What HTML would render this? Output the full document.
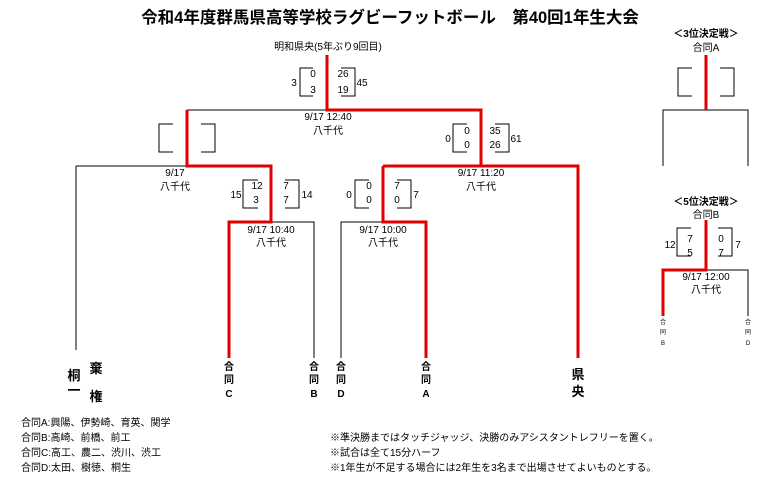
<!DOCTYPE html>
<html><head><meta charset="utf-8"><style>
body{margin:0;background:#fff;}
svg{display:block;font-family:"Liberation Sans","Noto Sans CJK JP",sans-serif;}
text{fill:#000;}
.s{font-size:10px;}
.b{font-weight:bold;}
</style></head><body>
<svg width="772" height="480" viewBox="0 0 772 480">
<text x="390" y="23" text-anchor="middle" font-size="16.5" class="b">令和4年度群馬県高等学校ラグビーフットボール　第40回1年生大会</text>
<text x="328" y="50" text-anchor="middle" class="s">明和県央(5年ぶり9回目)</text>
<g fill="none" stroke="#000" stroke-width="1">
<line x1="187" y1="110" x2="327" y2="110"/>
<path d="M313 68 H300 V96 H313"/><path d="M341 68 H355 V96 H341"/>
<line x1="76" y1="166" x2="187" y2="166"/>
<line x1="76" y1="166" x2="76" y2="350"/>
<path d="M173 124 H159 V152 H173"/><path d="M201 124 H215 V152 H201"/>
<path d="M258 180 H243 V208 H258"/><path d="M285 180 H299 V208 H285"/>
<path d="M271 222 H314 V358"/>
<path d="M467 124 H453 V152 H467"/><path d="M495 124 H509 V152 H495"/>
<path d="M383 222 H341 V358"/>
<path d="M369 180 H355 V208 H369"/><path d="M397 180 H411 V208 H397"/>
<path d="M692 68 H678 V96 H692"/><path d="M720 68 H734 V96 H720"/>
<path d="M663 166 V110 H748 V166"/>
<path d="M691 228 H677 V256 H691"/><path d="M718 228 H732 V256 H718"/>
<path d="M707 270 H748 V316"/>
</g>
<g fill="none" stroke="#e00000" stroke-width="3">
<path d="M327 55 V110 H481 V166 H578 V358"/>
<path d="M187 110 V166 H271 V222 H229 V358"/>
<path d="M383 166 H481"/>
<path d="M383 166 V222 H426 V358"/>
<path d="M706 55 V110"/>
<path d="M706 220 V270 H663 V316"/>
</g>
<g class="s">
<text x="294" y="86" text-anchor="middle">3</text>
<text x="313" y="77" text-anchor="middle">0</text><text x="313" y="93" text-anchor="middle">3</text>
<text x="343" y="77" text-anchor="middle">26</text><text x="343" y="93" text-anchor="middle">19</text>
<text x="362" y="86" text-anchor="middle">45</text>
<text x="328" y="120" text-anchor="middle">9/17  12:40</text>
<text x="328" y="134" text-anchor="middle">八千代</text>
<text x="175" y="176" text-anchor="middle">9/17</text>
<text x="175" y="190" text-anchor="middle">八千代</text>
<text x="236" y="198" text-anchor="middle">15</text>
<text x="257" y="189" text-anchor="middle">12</text><text x="256" y="203" text-anchor="middle">3</text>
<text x="286" y="189" text-anchor="middle">7</text><text x="286" y="203" text-anchor="middle">7</text>
<text x="307" y="198" text-anchor="middle">14</text>
<text x="271" y="233" text-anchor="middle">9/17 10:40</text>
<text x="271" y="246" text-anchor="middle">八千代</text>
<text x="448" y="142" text-anchor="middle">0</text>
<text x="467" y="134" text-anchor="middle">0</text><text x="467" y="148" text-anchor="middle">0</text>
<text x="495" y="134" text-anchor="middle">35</text><text x="495" y="148" text-anchor="middle">26</text>
<text x="516" y="142" text-anchor="middle">61</text>
<text x="481" y="176" text-anchor="middle">9/17 11:20</text>
<text x="481" y="190" text-anchor="middle">八千代</text>
<text x="349" y="198" text-anchor="middle">0</text>
<text x="369" y="189" text-anchor="middle">0</text><text x="369" y="203" text-anchor="middle">0</text>
<text x="397" y="189" text-anchor="middle">7</text><text x="397" y="203" text-anchor="middle">0</text>
<text x="416" y="198" text-anchor="middle">7</text>
<text x="383" y="233" text-anchor="middle">9/17 10:00</text>
<text x="383" y="246" text-anchor="middle">八千代</text>
<text x="706" y="37" text-anchor="middle" class="b">＜3位決定戦＞</text>
<text x="706" y="51" text-anchor="middle">合同A</text>
<text x="706" y="205" text-anchor="middle" class="b">＜5位決定戦＞</text>
<text x="706" y="218" text-anchor="middle">合同B</text>
<text x="670" y="248" text-anchor="middle">12</text>
<text x="690" y="242" text-anchor="middle">7</text><text x="690" y="256" text-anchor="middle">5</text>
<text x="721" y="242" text-anchor="middle">0</text><text x="721" y="256" text-anchor="middle">7</text>
<text x="738" y="248" text-anchor="middle">7</text>
<text x="706" y="280" text-anchor="middle">9/17 12:00</text>
<text x="706" y="293" text-anchor="middle">八千代</text>
</g>
<g font-size="6" text-anchor="middle"><text x="663" y="324">合</text><text x="663" y="334">同</text><text x="663" y="345">B</text>
<text x="748" y="324">合</text><text x="748" y="334">同</text><text x="748" y="345">D</text></g>
<g class="b" text-anchor="middle" font-size="10">
<text x="229" y="370">合</text><text x="229" y="383">同</text><text x="229" y="397">C</text>
<text x="314" y="370">合</text><text x="314" y="383">同</text><text x="314" y="397">B</text>
<text x="341" y="370">合</text><text x="341" y="383">同</text><text x="341" y="397">D</text>
<text x="426" y="370">合</text><text x="426" y="383">同</text><text x="426" y="397">A</text>
</g>
<g class="b" text-anchor="middle" font-size="13">
<text x="578" y="379">県</text><text x="578" y="396">央</text>
<text x="74" y="380">桐</text><text x="74" y="395">一</text>
<text x="96" y="373">棄</text><text x="96" y="401">権</text>
</g>
<g class="s">
<text x="21" y="426">合同A:興陽、伊勢崎、育英、関学</text>
<text x="21" y="441">合同B:高崎、前橋、前工</text>
<text x="21" y="456">合同C:高工、農二、渋川、渋工</text>
<text x="21" y="471">合同D:太田、樹徳、桐生</text>
<text x="330" y="441">※準決勝まではタッチジャッジ、決勝のみアシスタントレフリーを置く。</text>
<text x="330" y="456">※試合は全て15分ハーフ</text>
<text x="330" y="471">※1年生が不足する場合には2年生を3名まで出場させてよいものとする。</text>
</g>
</svg>
</body></html>
